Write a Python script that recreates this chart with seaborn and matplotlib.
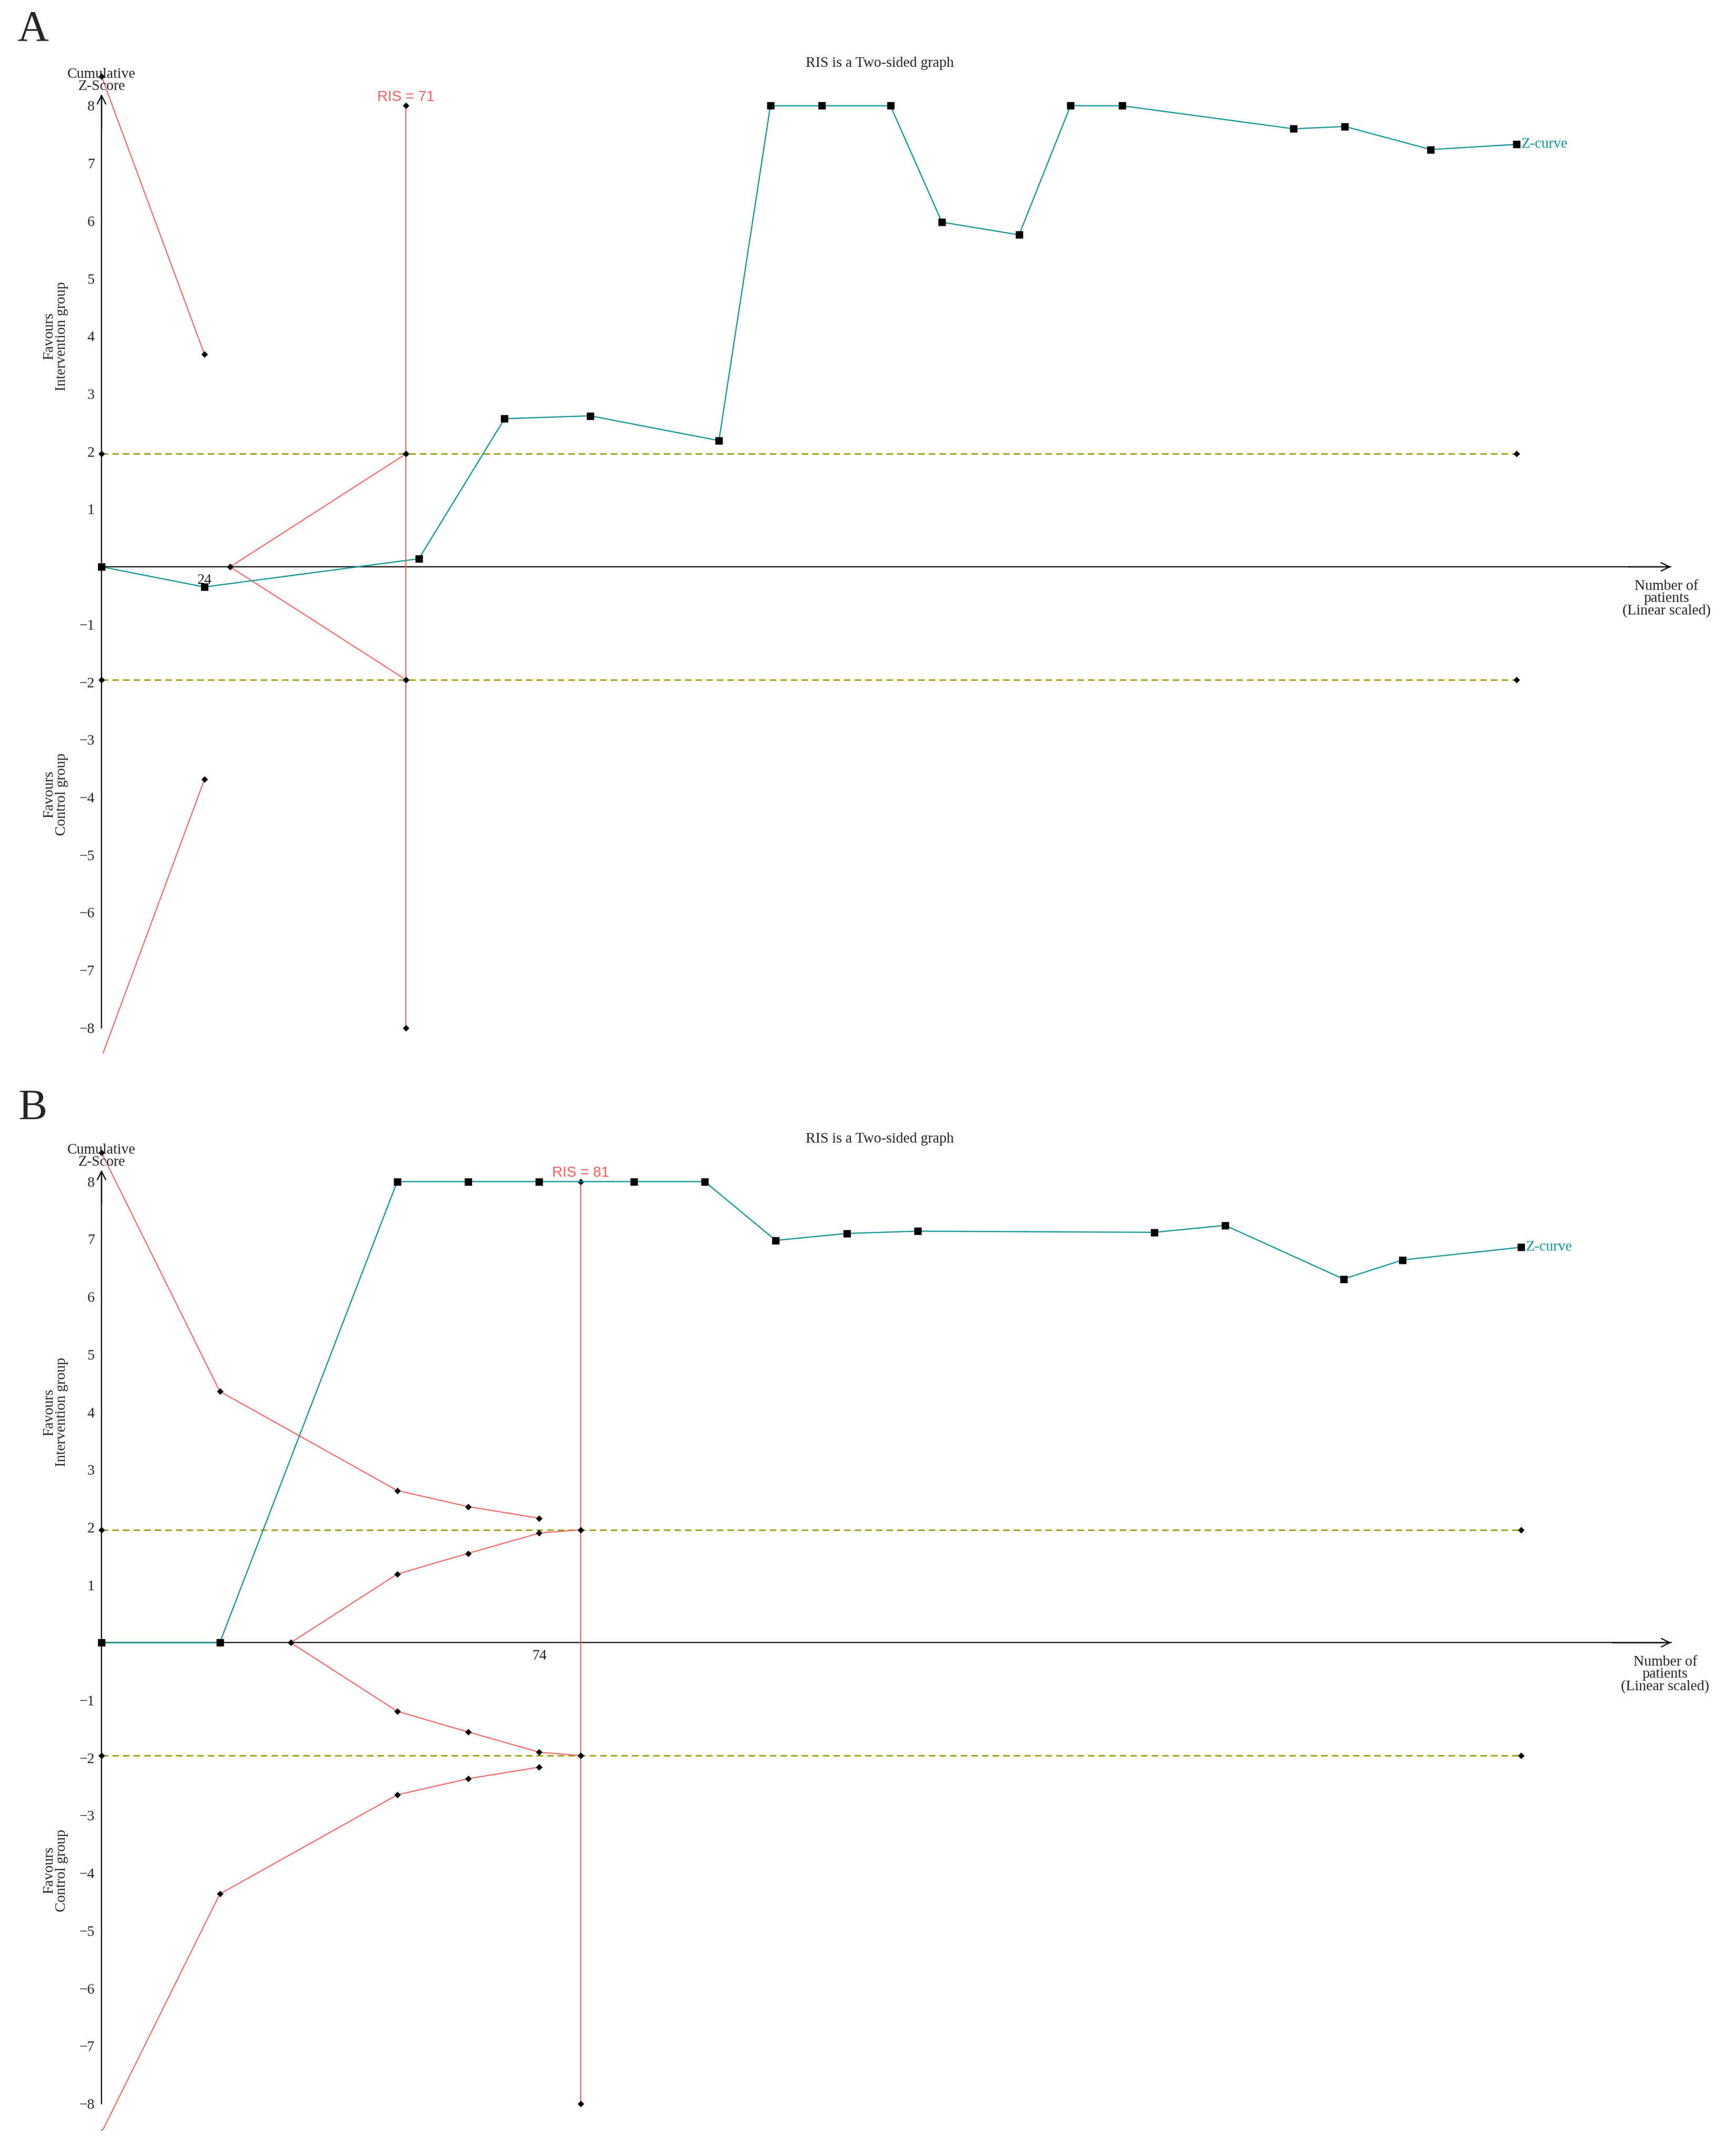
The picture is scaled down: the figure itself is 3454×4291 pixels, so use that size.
import matplotlib
matplotlib.use("Agg")
import matplotlib.pyplot as plt
import seaborn as sns

# ---- data ----
# Panel A
a_curve_n = [0, 24, 74, 94, 114, 144, 156, 168, 184, 196, 214, 226, 238, 278, 290, 310, 330]
a_curve_z = [0, -0.35, 0.14, 2.57, 2.62, 2.19, 8, 8, 8, 5.98, 5.76, 8, 8, 7.60, 7.64, 7.24, 7.33]
a_benefit_n = [0, 24]
a_benefit_z = [8.51, 3.69]
a_futility_n = [30, 71]
a_futility_z = [0, 1.96]
a_ris = 71
a_tick = [24]
a_last_n = 330

# Panel B
b_curve_n = [0, 20, 50, 62, 74, 90, 102, 114, 126, 138, 178, 190, 210, 220, 240]
b_curve_z = [0, 0, 8, 8, 8, 8, 8, 6.98, 7.10, 7.14, 7.12, 7.24, 6.31, 6.64, 6.86]
b_benefit_n = [0, 20, 50, 62, 74]
b_benefit_z = [8.50, 4.36, 2.64, 2.36, 2.16]
b_futility_n = [32, 50, 62, 74, 81]
b_futility_z = [0, 1.19, 1.55, 1.90, 1.96]
b_ris = 81
b_tick = [74]
b_last_n = 240

conv_z = 1.96
ris_z = [8, 1.96, -1.96, -8]
y_ticks = [-8, -7, -6, -5, -4, -3, -2, -1, 1, 2, 3, 4, 5, 6, 7, 8]

RED = "#FF5C5C"
TEAL = "#0E9696"
OLIVE = "#9C9C00"

sns.set_style("white")
plt.rcParams["font.family"] = ["Liberation Serif", "DejaVu Serif"]
plt.rcParams["axes.unicode_minus"] = True

fig = plt.figure(figsize=(34.55, 42.91), dpi=100)


def tsa_panel(rect, xlim, curve_n, curve_z, ben_n, ben_z, fut_n, fut_z, ris, tick, last_n, letter, letter_y):
    ax = fig.add_axes(rect)
    dia = dict(marker="D", markersize=6.5, mfc="black", mec="black", mew=0.5)

    # conventional boundaries
    for s in (1, -1):
        sns.lineplot(x=[0, last_n], y=[s * conv_z, s * conv_z], ax=ax, color=OLIVE, lw=2,
                     estimator=None, sort=False, legend=False, zorder=2, **dia)
        ax.lines[-1].set_dashes((4.7, 2.9))

    # monitoring boundaries (benefit) and futility wedge
    for s in (1, -1):
        sns.lineplot(x=ben_n, y=[s * v for v in ben_z], ax=ax, color=RED, lw=1.5,
                     estimator=None, sort=False, legend=False, zorder=3, **dia)
        sns.lineplot(x=fut_n, y=[s * v for v in fut_z], ax=ax, color=RED, lw=1.5,
                     estimator=None, sort=False, legend=False, zorder=3, **dia)

    # RIS vertical line
    sns.lineplot(x=[ris] * len(ris_z), y=ris_z, ax=ax, color=RED, lw=1.5,
                 estimator=None, sort=False, legend=False, zorder=3, **dia)
    ax.annotate(f"RIS = {ris}", xy=(ris, 8), xytext=(0, 7), textcoords="offset points",
                ha="center", va="baseline", color=RED, fontsize=21,
                family=["Liberation Sans", "DejaVu Sans"], annotation_clip=False)

    # Z-curve
    sns.lineplot(x=curve_n, y=curve_z, ax=ax, color=TEAL, lw=1.7, marker="s", markersize=10,
                 mfc="black", mec="black", mew=0.5, estimator=None, sort=False,
                 legend=False, zorder=5)
    ax.annotate("Z-curve", xy=(curve_n[-1], curve_z[-1]), xytext=(7, 0),
                textcoords="offset points", ha="left", va="center", color=TEAL, fontsize=21)

    # axes styling
    ax.set_xlim(*xlim)
    ax.set_ylim(-8.45, 8.75)
    ax.spines[["top", "right"]].set_visible(False)
    ax.spines["left"].set_position(("data", 0))
    ax.spines["bottom"].set_position(("data", 0))
    ax.spines["left"].set_bounds(-8, 8.18)
    ax.spines["bottom"].set_bounds(0, xlim[1])
    for sp in ("left", "bottom"):
        ax.spines[sp].set_linewidth(1.7)
        ax.spines[sp].set_color("black")
    ax.set_yticks(y_ticks)
    ax.set_xticks(tick)
    ax.tick_params(axis="both", direction="out", length=8, width=1.7, color="black",
                   labelsize=21, pad=2)
    ax.set_xlabel("")
    ax.set_ylabel("")

    arrow = dict(arrowstyle="->", lw=1.7, color="black", mutation_scale=30, shrinkA=0, shrinkB=0)
    ax.annotate("", xy=(0, 8.2), xytext=(0, 7.6), arrowprops=arrow, annotation_clip=False)
    ax.annotate("", xy=(xlim[1], 0), xytext=(xlim[1] - 10, 0), arrowprops=arrow,
                annotation_clip=False)

    # texts
    ax.text(0.5, 8.74, "RIS is a Two-sided graph", transform=ax.get_yaxis_transform(),
            ha="center", va="center", fontsize=21, clip_on=False)
    ax.text(0, 8.44, "Cumulative\nZ-Score", ha="center", va="center", fontsize=21,
            linespacing=0.9, clip_on=False)
    ax.text(xlim[1] - 1, -0.55, "Number of\npatients\n(Linear scaled)", ha="center",
            va="center", fontsize=21, linespacing=0.9, clip_on=False)
    fav_x = -33.5 / (1144.0 / xlim[1])
    ax.text(fav_x, 4.0, "Favours\nIntervention group", rotation=90, ha="center",
            va="center", fontsize=21, linespacing=0.9, clip_on=False)
    ax.text(fav_x, -3.95, "Favours\nControl group", rotation=90, ha="center",
            va="center", fontsize=21, linespacing=0.9, clip_on=False)
    fig.text(0.019, letter_y, letter, ha="center", va="center", fontsize=62)
    return ax


tsa_panel([0.0511, 0.5112, 0.9116, 0.4598], (-3, 366), a_curve_n, a_curve_z,
          a_benefit_n, a_benefit_z, a_futility_n, a_futility_z, a_ris, a_tick, a_last_n,
          "A", 0.986)
tsa_panel([0.0510, 0.0122, 0.9119, 0.4598], (-2.2, 265.4), b_curve_n, b_curve_z,
          b_benefit_n, b_benefit_z, b_futility_n, b_futility_z, b_ris, b_tick, b_last_n,
          "B", 0.4857)

fig.savefig("out.png", dpi=100, facecolor="white")
